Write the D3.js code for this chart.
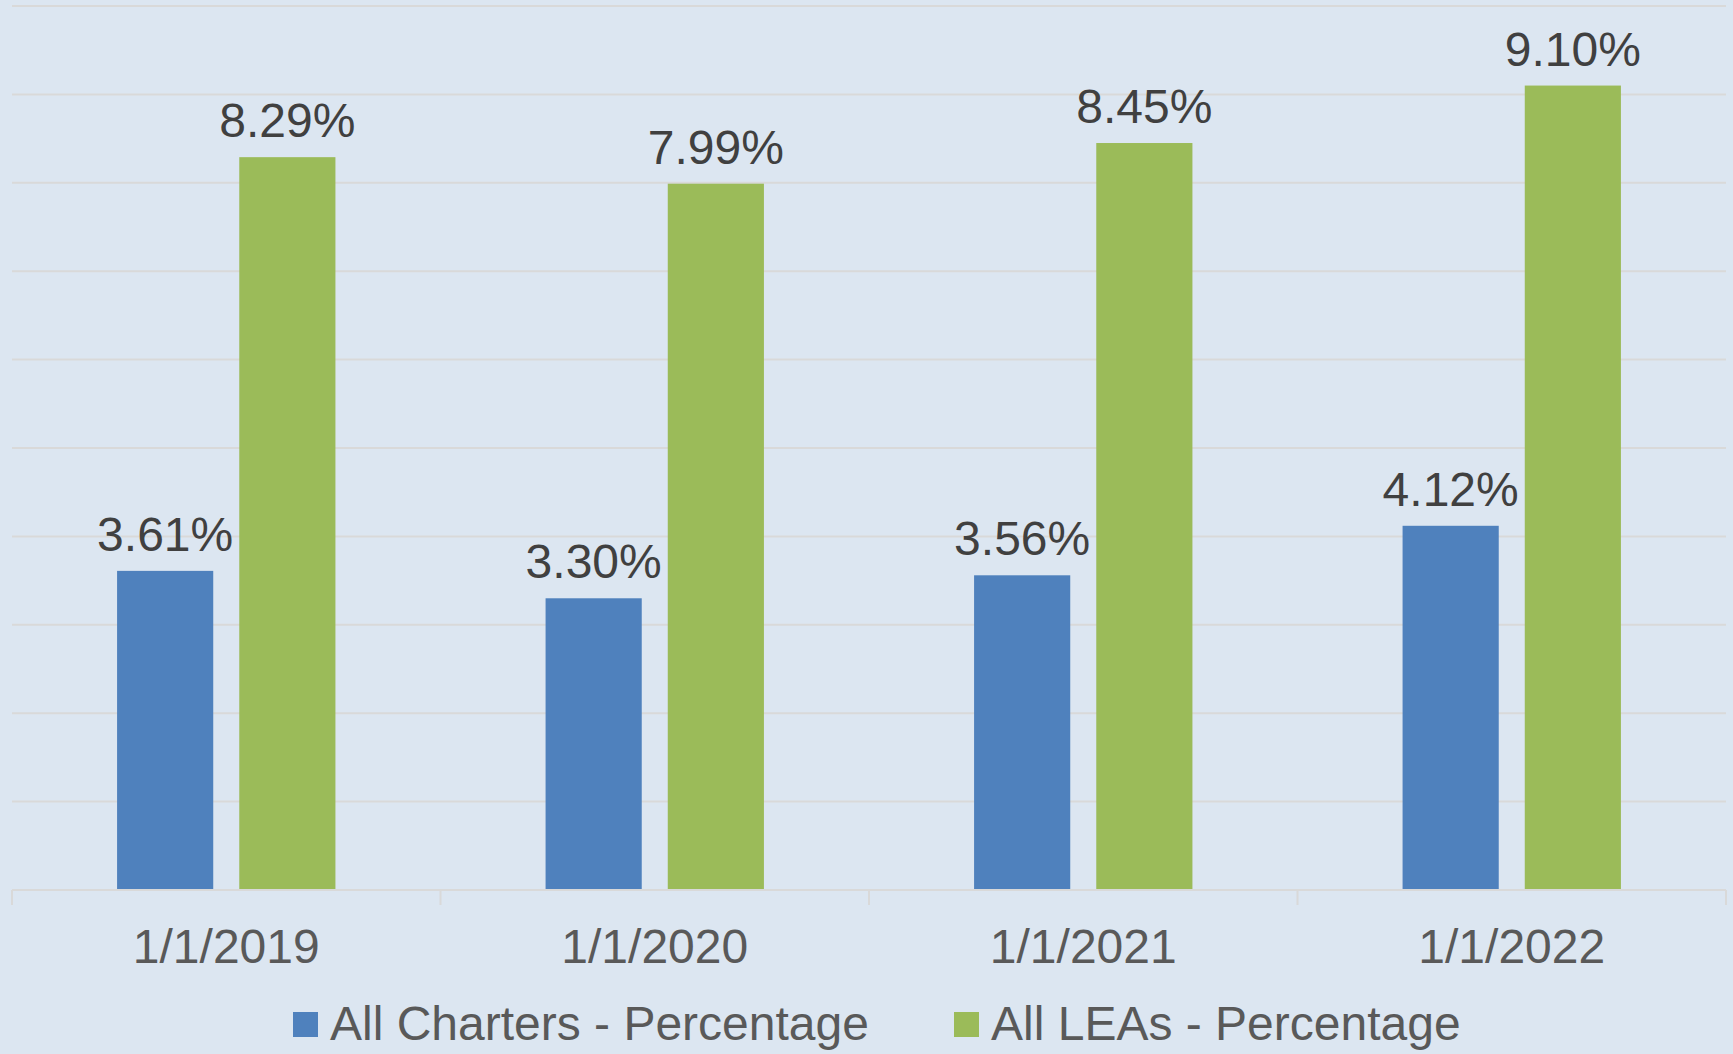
<!DOCTYPE html>
<html>
<head>
<meta charset="utf-8">
<script src="https://cdn.jsdelivr.net/npm/d3@7"></script>
<style>
    body { margin: 0; background: #dce6f1; }
    svg { display: block; font-family: Arial, "Liberation Sans", sans-serif; }
</style>
</head>
<body>
<div id="chart"></div>
<script>
var categories = ["1/1/2019", "1/1/2020", "1/1/2021", "1/1/2022"];
var seriesNames = ["All Charters - Percentage", "All LEAs - Percentage"];
var charters = [3.61, 3.30, 3.56, 4.12];
var leas = [8.29, 7.99, 8.45, 9.10];
var yTicks = [0, 1, 2, 3, 4, 5, 6, 7, 8, 9, 10];
var colors = ["#4f81bd", "#9bbb59"];

var svgWidth = 1733;
var svgHeight = 1054;

var margin = { top: 6, right: 7, bottom: 164, left: 12 };
var width = svgWidth - margin.left - margin.right;
var height = svgHeight - margin.top - margin.bottom;

var svg = d3.select("#chart")
    .append("svg")
    .attr("width", svgWidth)
    .attr("height", svgHeight);

svg.append("rect")
    .attr("width", svgWidth)
    .attr("height", svgHeight)
    .attr("fill", "#dce6f1");

var chartGroup = svg.append("g")
    .attr("transform", `translate(${margin.left}, ${margin.top})`);

var x0 = d3.scaleBand()
    .domain(categories)
    .range([0, width])
    .padding(0);

var x1 = d3.scaleBand()
    .domain(seriesNames)
    .range([0, x0.bandwidth()])
    .paddingInner(0.213)
    .paddingOuter(0.86);

var y = d3.scaleLinear()
    .domain([0, 10])
    .range([height, 0]);

// gridlines
chartGroup.selectAll("line.grid")
    .data(yTicks)
    .enter()
    .append("line")
    .attr("class", "grid")
    .attr("x1", 0)
    .attr("x2", width)
    .attr("y1", d => y(d))
    .attr("y2", d => y(d))
    .attr("stroke", "#d9d9d9")
    .attr("stroke-width", 2);

var data = categories.map((c, i) => ({ cat: c, values: [
    { name: seriesNames[0], value: charters[i], color: colors[0] },
    { name: seriesNames[1], value: leas[i], color: colors[1] }
] }));

var groups = chartGroup.selectAll("g.cat")
    .data(data)
    .enter()
    .append("g")
    .attr("class", "cat")
    .attr("transform", d => `translate(${x0(d.cat)}, 0)`);

groups.selectAll("rect")
    .data(d => d.values)
    .enter()
    .append("rect")
    .attr("x", d => x1(d.name))
    .attr("y", d => y(d.value))
    .attr("width", x1.bandwidth())
    .attr("height", d => height - y(d.value))
    .attr("fill", d => d.color);

groups.selectAll("text")
    .data(d => d.values)
    .enter()
    .append("text")
    .attr("x", d => x1(d.name) + x1.bandwidth() / 2)
    .attr("y", d => y(d.value) - 20)
    .attr("text-anchor", "middle")
    .attr("font-size", "48px")
    .attr("fill", "#404040")
    .text(d => d.value.toFixed(2) + "%");

// x axis
var xAxis = chartGroup.append("g")
    .attr("transform", `translate(0, ${height})`);

xAxis.append("line")
    .attr("x1", 0)
    .attr("x2", width)
    .attr("stroke", "#d9d9d9")
    .attr("stroke-width", 2);

var tickPos = categories.map(c => x0(c)).concat([width]);
xAxis.selectAll("line.tick")
    .data(tickPos)
    .enter()
    .append("line")
    .attr("class", "tick")
    .attr("x1", d => d)
    .attr("x2", d => d)
    .attr("y1", 0)
    .attr("y2", 15)
    .attr("stroke", "#d9d9d9")
    .attr("stroke-width", 2);

xAxis.selectAll("text")
    .data(categories)
    .enter()
    .append("text")
    .attr("x", d => x0(d) + x0.bandwidth() / 2)
    .attr("y", 73)
    .attr("text-anchor", "middle")
    .attr("font-size", "48px")
    .attr("fill", "#595959")
    .text(d => d);

// legend
var legendX = [293, 954];
var legend = svg.selectAll("g.legend")
    .data(seriesNames)
    .enter()
    .append("g")
    .attr("class", "legend")
    .attr("transform", (d, i) => `translate(${legendX[i]}, 1012)`);

legend.append("rect")
    .attr("width", 25)
    .attr("height", 25)
    .attr("fill", (d, i) => colors[i]);

legend.append("text")
    .attr("x", 37)
    .attr("y", 28)
    .attr("font-size", "48px")
    .attr("fill", "#595959")
    .text(d => d);
</script>
</body>
</html>
